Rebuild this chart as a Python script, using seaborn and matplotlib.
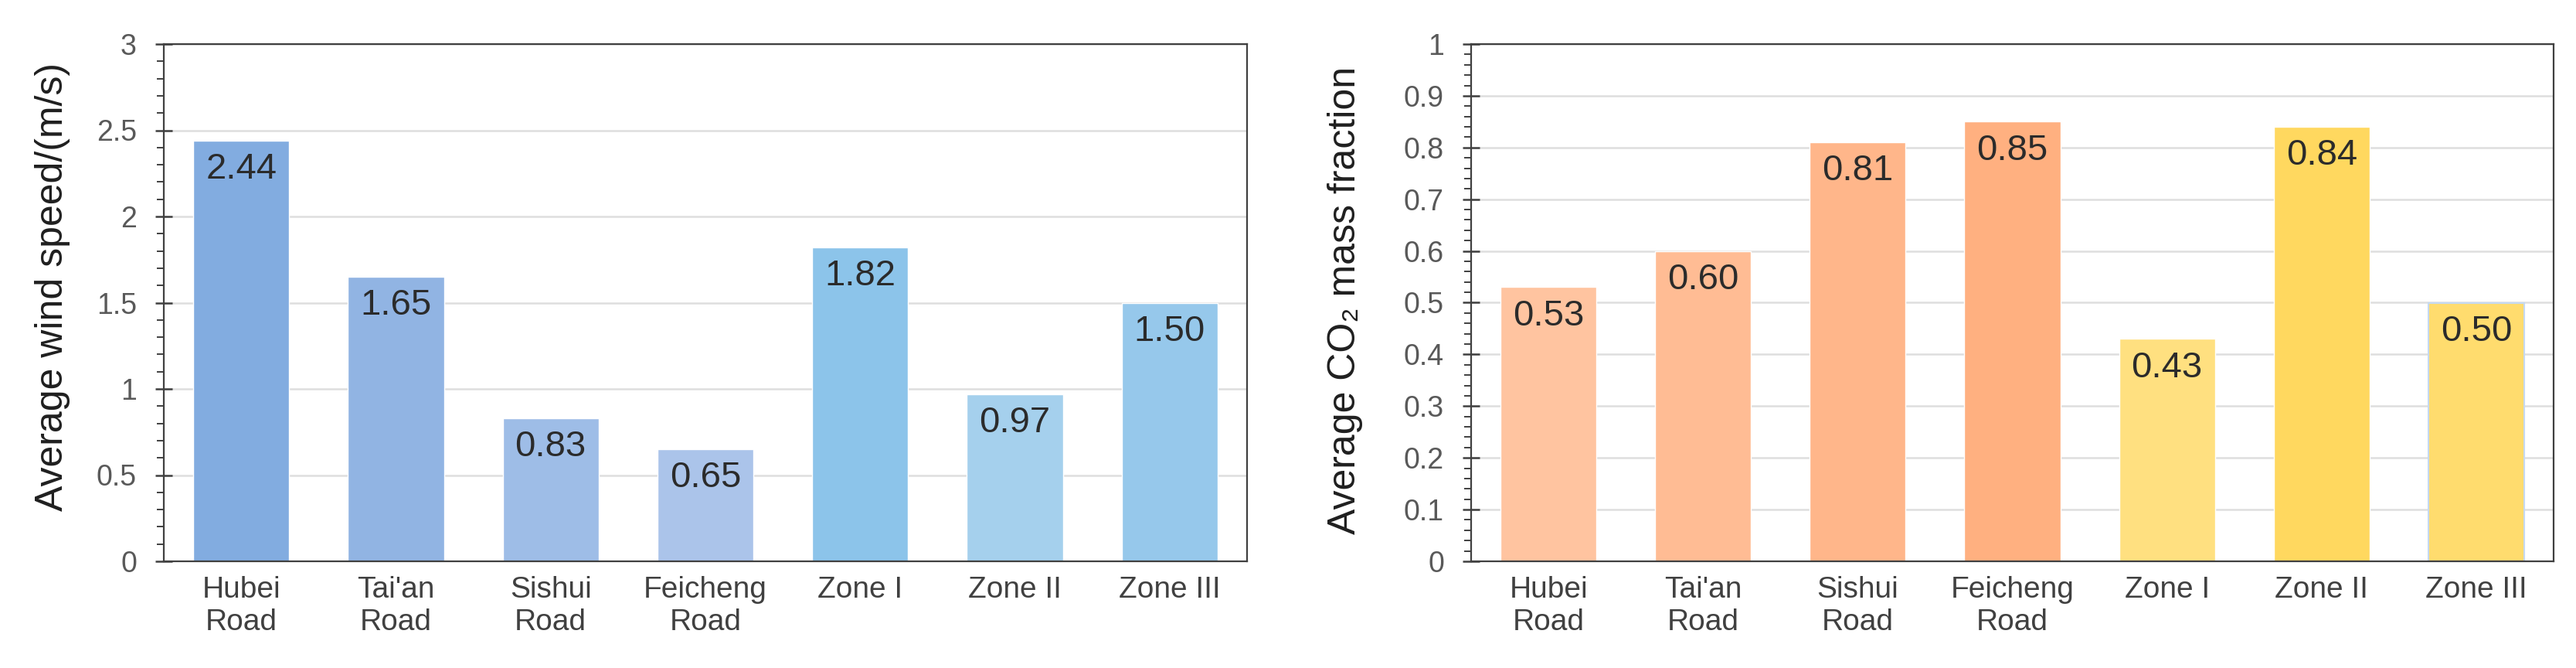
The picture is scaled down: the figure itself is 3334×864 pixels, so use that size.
import matplotlib
matplotlib.use("Agg")
import matplotlib.pyplot as plt
import numpy as np
import pandas as pd
import seaborn as sns
from matplotlib.ticker import MultipleLocator

# data
categories = ["Hubei\nRoad", "Tai'an\nRoad", "Sishui\nRoad", "Feicheng\nRoad",
              "Zone I", "Zone II", "Zone III"]
wind_speed = [2.44, 1.65, 0.83, 0.65, 1.82, 0.97, 1.50]
co2_fraction = [0.53, 0.60, 0.81, 0.85, 0.43, 0.84, 0.50]

wind_colors = ["#82ACE0", "#91B4E3", "#9EBDE7", "#ABC4EA", "#8CC4EA", "#A5D0ED", "#96C8EB"]
co2_colors = ["#FFC4A0", "#FFBC94", "#FFB68A", "#FFB080", "#FFE080", "#FFD85F", "#FFDC6E"]

sns.set_theme(style="white")
plt.rcParams["font.family"] = ["Liberation Sans", "DejaVu Sans"]

W, H = 3334, 864
fig = plt.figure(figsize=(W / 100, H / 100), dpi=100)


def draw_panel(rect, values, colors, ylabel, ymax, major, minor, label_xy):
    ax = fig.add_axes(rect)
    df = pd.DataFrame({"cat": categories, "val": values})
    sns.barplot(data=df, x="cat", y="val", hue="cat", palette=colors,
                legend=False, width=0.62, saturation=1, ax=ax)
    ax.set_xlim(-0.5, len(categories) - 0.5)
    ax.set_ylim(0, ymax)
    ax.yaxis.set_major_locator(MultipleLocator(major))
    ax.yaxis.set_minor_locator(MultipleLocator(minor))
    ax.yaxis.set_major_formatter(lambda v, p: f"{v:g}")

    ax.set_axisbelow(True)
    ax.yaxis.grid(True, which="major", color="#DEDEDE", linewidth=1.8)
    for s in ax.spines.values():
        s.set_visible(True)
        s.set_color("#404040")
        s.set_linewidth(1.6)

    ax.tick_params(axis="y", which="major", direction="inout", length=16.5, width=1.8,
                   color="#404040", pad=17, labelsize=27, labelcolor="#595959", left=True)
    ax.tick_params(axis="y", which="minor", direction="out", length=6.5, width=1.4,
                   color="#404040", left=True)
    ax.tick_params(axis="x", length=0, pad=14, labelsize=28, labelcolor="#404040")

    ax.set_xlabel("")
    ax.set_ylabel(ylabel, fontsize=36, color="#1F1F1F")
    ax.yaxis.set_label_coords(*label_xy)

    for patch, v in zip(ax.patches, values):
        ax.annotate(f"{v:.2f}", xy=(patch.get_x() + patch.get_width() / 2, v),
                    xytext=(0, -11), textcoords="offset points",
                    ha="center", va="top", fontsize=34, color="#2B2B2B")
    return ax


bottom = (H - 726) / H
height = (726 - 57) / H
draw_panel([212 / W, bottom, 1402 / W, height], wind_speed, wind_colors,
           "Average wind speed/(m/s)", 3, 0.5, 0.1, (-0.086, 0.53))
ax2 = draw_panel([1904 / W, bottom, 1401 / W, height], co2_fraction, co2_colors,
                 "Average CO₂ mass fraction", 1, 0.1, 0.02, (-0.100, 0.505))
ax2.patches[-1].set_edgecolor("#C5D9F1")
ax2.patches[-1].set_linewidth(1.5)

fig.savefig("out.png", dpi=100)
